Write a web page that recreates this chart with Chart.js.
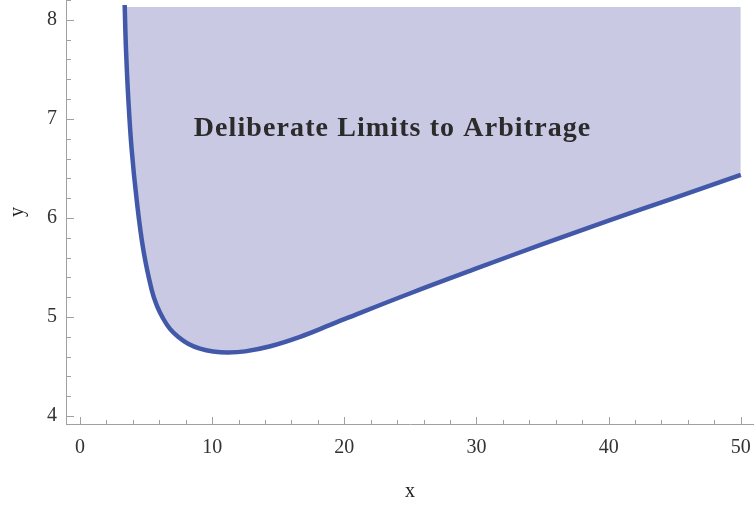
<!DOCTYPE html>
<html>
<head>
<meta charset="utf-8">
<script src="https://cdn.jsdelivr.net/npm/chart.js@4/dist/chart.umd.min.js"></script>
<style>
body { margin: 0; background: #fff; }
.plot--box { width: 754px; height: 506px; position: relative; }
</style>
</head>
<body>
<div class="plot--box">
    <canvas id="limitsChart"></canvas>
</div>
<script>
    // boundary curve
    const curveX = [3.38, 3.48, 3.66, 3.91, 4.29, 4.79, 5.43, 5.83, 6.31, 6.81, 7.42, 8.18, 9.08, 10.07, 11.2, 12.49, 14.4, 16.65, 18.93, 20, 25, 30, 35, 40, 45, 50];
    const curveY = [8.15, 7.70, 7.19, 6.69, 6.18, 5.68, 5.27, 5.11, 4.98, 4.88, 4.80, 4.73, 4.68, 4.652, 4.642, 4.653, 4.705, 4.80, 4.92, 4.978, 5.24, 5.49, 5.735, 5.972, 6.203, 6.434];
    const xTicks = [0, 10, 20, 30, 40, 50];
    const yTicks = [4, 5, 6, 7, 8];
    const regionLabel = 'Deliberate Limits to Arbitrage';
    const fillTop = 8.13;

    const serif = '"Liberation Serif", "Times New Roman", serif';

    // Mathematica style inward ticks, drawn through the chart scales
    const innerTicks = {
        id: 'innerTicks',
        afterDraw(chart) {
            const {ctx, chartArea, scales: {x, y}} = chart;
            ctx.save();
            ctx.strokeStyle = '#a0a0a0';
            ctx.lineWidth = 1;
            ctx.beginPath();
            for (let v = 0; v <= 50; v += 2) {
                let px = Math.round(x.getPixelForValue(v)) + 0.5;
                let len = v % 10 === 0 ? 7 : 4;
                ctx.moveTo(px, chartArea.bottom);
                ctx.lineTo(px, chartArea.bottom - len);
            }
            for (let i = 20; i <= 41; i++) {
                let v = i / 5;
                let py = Math.round(y.getPixelForValue(v)) + 0.5;
                let len = i % 5 === 0 ? 8 : 5;
                ctx.moveTo(chartArea.left, py);
                ctx.lineTo(chartArea.left + len, py);
            }
            ctx.stroke();
            ctx.restore();
        }
    };

    const regionText = {
        id: 'regionText',
        afterDatasetsDraw(chart) {
            const {ctx, scales: {x, y}} = chart;
            ctx.save();
            ctx.font = 'bold 28px ' + serif;
            ctx.letterSpacing = '1.1px';
            ctx.fillStyle = '#2b2b2b';
            ctx.textAlign = 'center';
            ctx.textBaseline = 'alphabetic';
            ctx.fillText(regionLabel, x.getPixelForValue(23.65), y.getPixelForValue(6.83));
            ctx.restore();
        }
    };

    new Chart(document.getElementById('limitsChart'), {
        type: 'line',
        data: {
            datasets: [{
                data: curveX.map((v, i) => ({x: v, y: curveY[i]})),
                borderColor: '#4259a9',
                borderWidth: 4.5,
                backgroundColor: '#cac9e4',
                fill: {value: fillTop},
                pointRadius: 0,
                tension: 0.4,
                clip: false
            }]
        },
        options: {
            responsive: true,
            maintainAspectRatio: false,
            animation: false,
            layout: { padding: 0 },
            plugins: { legend: { display: false }, tooltip: { enabled: false } },
            scales: {
                x: {
                    type: 'linear',
                    min: -1.06,
                    max: 51.0,
                    grid: { display: false, drawTicks: false },
                    border: { display: true, color: '#a0a0a0', width: 1 },
                    ticks: { font: { family: serif, size: 20 }, color: '#333', padding: 12, maxRotation: 0 },
                    afterBuildTicks: (scale) => { scale.ticks = xTicks.map(v => ({value: v})); },
                    afterFit: (scale) => {
                        scale.height = 82;
                        scale.paddingLeft = 0;
                        scale.paddingRight = 0;
                    },
                    title: { display: true, text: 'x', font: { family: serif, size: 20 }, color: '#222', padding: { top: 3, bottom: 2 } }
                },
                y: {
                    min: 3.92,
                    max: 8.2,
                    grid: { display: false, drawTicks: false },
                    border: { display: true, color: '#a0a0a0', width: 1 },
                    ticks: { font: { family: serif, size: 20 }, color: '#333', padding: 9 },
                    afterBuildTicks: (scale) => { scale.ticks = yTicks.map(v => ({value: v})); },
                    afterFit: (scale) => {
                        scale.width = 66;
                        scale.paddingTop = 0;
                        scale.paddingBottom = 0;
                    },
                    title: { display: true, text: 'y', font: { family: serif, size: 20 }, color: '#222', padding: { top: 6, bottom: 0 } }
                }
            }
        },
        plugins: [innerTicks, regionText]
    });
</script>
</body>
</html>
